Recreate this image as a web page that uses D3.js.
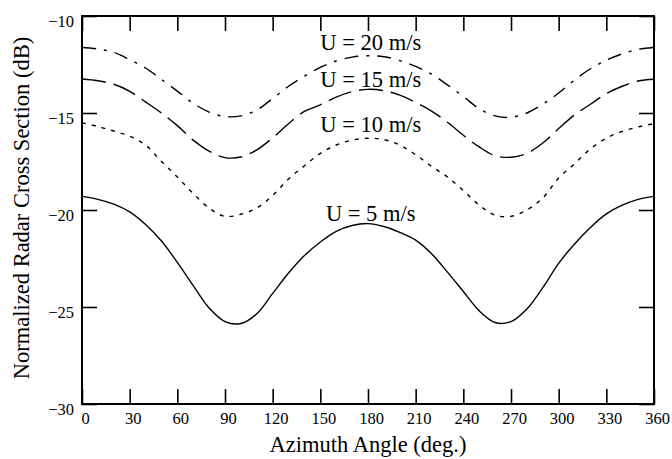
<!DOCTYPE html>
<html>
<head>
<meta charset="utf-8">
<script src="https://cdn.jsdelivr.net/npm/d3@7"></script>
<style>
  html, body { margin: 0; padding: 0; background: #fff; }
  svg { display: block; }
  text { font-family: "Liberation Serif", "Times New Roman", serif; fill: #000; }
</style>
</head>
<body>
<svg id="chart" width="672" height="459"></svg>
<script>
// ---- data ----
const angles = [0,10,20,30,40,50,60,70,80,90,100,110,120,130,140,150,160,170,180,
                190,200,210,220,230,240,250,260,270,280,290,300,310,320,330,340,350,360];

const u5 = [-19.3,-19.45,-19.7,-20.1,-20.75,-21.6,-22.7,-23.9,-25.05,-25.75,-25.85,-25.35,-24.3,-23.25,-22.35,-21.65,-21.1,-20.8,-20.7,
            -20.85,-21.15,-21.55,-22.25,-23.2,-24.2,-25.2,-25.8,-25.75,-25.1,-24.0,-22.75,-21.75,-20.9,-20.2,-19.75,-19.45,-19.3];

const u10 = [-15.5,-15.7,-15.93,-16.2,-16.65,-17.5,-18.3,-19.15,-19.9,-20.33,-20.22,-19.9,-19.25,-18.4,-17.72,-17.08,-16.65,-16.4,-16.3,
             -16.37,-16.65,-17.15,-17.75,-18.3,-19.0,-19.75,-20.27,-20.33,-20.0,-19.38,-18.35,-17.62,-16.85,-16.3,-15.95,-15.72,-15.55];

const u15 = [-13.25,-13.34,-13.52,-13.88,-14.43,-15.0,-15.65,-16.4,-16.97,-17.3,-17.27,-16.9,-16.28,-15.55,-14.92,-14.58,-14.18,-13.9,-13.78,
             -13.85,-14.08,-14.46,-14.9,-15.48,-16.15,-16.75,-17.2,-17.28,-17.08,-16.55,-15.8,-15.1,-14.55,-14.0,-13.62,-13.35,-13.26];

const u20 = [-11.62,-11.7,-11.88,-12.25,-12.68,-13.27,-13.87,-14.5,-14.95,-15.18,-15.15,-14.85,-14.25,-13.62,-13.1,-12.65,-12.32,-12.12,-12.05,
             -12.1,-12.3,-12.6,-13.0,-13.55,-14.15,-14.78,-15.15,-15.22,-15.0,-14.55,-13.97,-13.3,-12.72,-12.28,-11.95,-11.72,-11.62];

const seriesNames = ["U = 5 m/s", "U = 10 m/s", "U = 15 m/s", "U = 20 m/s"];
const seriesValues = [u5, u10, u15, u20];
const seriesDash = ["none", "4,6", "24,8", "14,8,3,8"];

// label anchor positions in data units (angle, dB at text baseline)
const labelAngles = [153.5, 150, 150, 150];
const labelValues = [-20.55, -15.96, -13.64, -11.75];

const xTicks = [0,30,60,90,120,150,180,210,240,270,300,330,360];
const yTicks = [-10,-15,-20,-25,-30];

// ---- layout ----
const svg = d3.select("#chart");
const mLeft = 82, mRight = 654, mTop = 16, mBottom = 404;

const x = d3.scaleLinear().domain([0, 360]).range([mLeft, mRight]);
const y = d3.scaleLinear().domain([-30, -10]).range([mBottom, mTop]);

const tickLen = 15;
const tickFont = "16.5px";

// bottom axis (with labels)
const gB = svg.append("g").attr("transform", `translate(0,${mBottom})`)
  .call(d3.axisBottom(x).tickValues(xTicks).tickSize(-tickLen).tickSizeOuter(0).tickPadding(8).tickFormat(d3.format("d")));
gB.selectAll("text").attr("font-size", tickFont).attr("dx", 3);

// top axis (ticks only)
svg.append("g").attr("transform", `translate(0,${mTop})`)
  .call(d3.axisTop(x).tickValues(xTicks).tickSize(-tickLen).tickSizeOuter(0).tickFormat(""));

// left axis (with labels)
const gL = svg.append("g").attr("transform", `translate(${mLeft},0)`)
  .call(d3.axisLeft(y).tickValues(yTicks).tickSize(-tickLen).tickSizeOuter(0).tickPadding(8).tickFormat(d3.format("d")));
gL.selectAll("text").attr("font-size", tickFont).attr("dy", "0.62em");

// right axis (ticks only)
svg.append("g").attr("transform", `translate(${mRight},0)`)
  .call(d3.axisRight(y).tickValues(yTicks).tickSize(-tickLen).tickSizeOuter(0).tickFormat(""));

svg.selectAll(".domain").remove();
svg.selectAll(".tick line").attr("stroke", "#000").attr("stroke-width", 1.6);

// frame
svg.append("rect")
  .attr("x", mLeft).attr("y", mTop)
  .attr("width", mRight - mLeft).attr("height", mBottom - mTop)
  .attr("fill", "none").attr("stroke", "#000").attr("stroke-width", 2);

// curves
const line = d3.line()
  .x((d, i) => x(angles[i]))
  .y(d => y(d))
  .curve(d3.curveCatmullRom.alpha(0.5));

svg.append("g").selectAll("path")
  .data(seriesValues)
  .join("path")
  .attr("d", d => line(d))
  .attr("fill", "none")
  .attr("stroke", "#000")
  .attr("stroke-width", 1.4)
  .attr("stroke-dasharray", (d, i) => seriesDash[i]);

// curve labels
svg.append("g").selectAll("text")
  .data(seriesNames)
  .join("text")
  .attr("x", (d, i) => x(labelAngles[i]))
  .attr("y", (d, i) => y(labelValues[i]))
  .attr("font-size", "22.5px")
  .text(d => d);

// axis titles
svg.append("text")
  .attr("x", (mLeft + mRight) / 2)
  .attr("y", 452)
  .attr("text-anchor", "middle")
  .attr("font-size", "22.5px")
  .text("Azimuth Angle (deg.)");

svg.append("text")
  .attr("transform", `translate(29,${(mTop + mBottom) / 2 - 2}) rotate(-90)`)
  .attr("text-anchor", "middle")
  .attr("font-size", "22.5px")
  .text("Normalized Radar Cross Section (dB)");
</script>
</body>
</html>
